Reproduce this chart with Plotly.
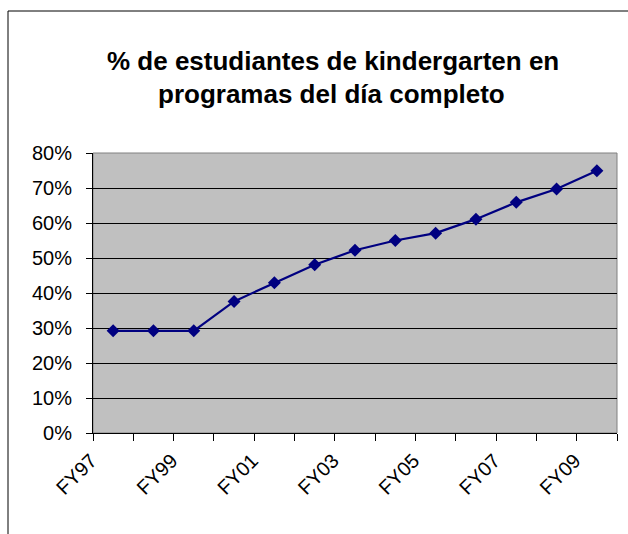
import plotly.graph_objects as go

categories = ["FY97", "FY98", "FY99", "FY00", "FY01", "FY02", "FY03",
              "FY04", "FY05", "FY06", "FY07", "FY08", "FY09"]
values = [29.2, 29.2, 29.2, 37.6, 42.9, 48.1, 52.2, 55.0, 57.1, 61.1, 65.9, 69.7, 74.9]
shown_labels = ["FY97", "FY99", "FY01", "FY03", "FY05", "FY07", "FY09"]
y_ticks = [0, 10, 20, 30, 40, 50, 60, 70, 80]
title_lines = ["% de estudiantes de kindergarten en", "programas del día completo"]

W, H = 628, 534
L, R, T, B = 93, 11, 153, 101
pw, ph = W - L - R, H - T - B

def px_x(v):
    return (v - L) / pw

def px_y(v):
    return (H - B - v) / ph

FONT = "Liberation Sans, Arial, sans-serif"

fig = go.Figure()
fig.add_trace(go.Scatter(
    x=categories, y=values, mode="lines+markers",
    line=dict(color="#000080", width=2.2),
    marker=dict(symbol="diamond", size=10, color="#000080"),
    showlegend=False, hoverinfo="skip",
))

fig.update_layout(
    width=W, height=H,
    margin=dict(l=L, r=R, t=T, b=B, autoexpand=False),
    paper_bgcolor="white", plot_bgcolor="#C0C0C0",
    font=dict(family=FONT, size=20, color="black"),
    xaxis=dict(
        type="category", range=[-0.5, len(categories) - 0.5],
        tickvals=categories,
        ticktext=[c if c in shown_labels else "" for c in categories],
        tickson="boundaries", ticks="outside", ticklen=7, tickcolor="black",
        showline=True, linecolor="black", linewidth=1,
        showgrid=False, tickangle=-45, tickfont=dict(size=20),
        ticklabelshift=-22, ticklabelstandoff=7,
    ),
    yaxis=dict(
        range=[0, 80], tickvals=y_ticks,
        ticktext=[f"{v}%" for v in y_ticks],
        ticks="outside", ticklen=6, tickcolor="black",
        showline=True, linecolor="black", linewidth=1,
        showgrid=True, gridcolor="black", gridwidth=1, zeroline=False,
        tickfont=dict(size=20), ticklabelstandoff=10,
    ),
    shapes=[
        dict(type="rect", xref="paper", yref="paper", x0=0, x1=1, y0=0, y1=1,
             line=dict(color="#808080", width=1), layer="between"),
        dict(type="rect", xref="paper", yref="paper",
             x0=px_x(8), x1=px_x(W + 20), y0=px_y(H + 20), y1=px_y(11),
             line=dict(color="black", width=1), layer="above"),
    ],
    annotations=[
        dict(xref="paper", yref="paper", x=px_x(333), y=px_y(61),
             xanchor="center", yanchor="middle", showarrow=False,
             text=title_lines[0],
             font=dict(family=FONT, size=26, color="black", weight="bold")),
        dict(xref="paper", yref="paper", x=px_x(331), y=px_y(94),
             xanchor="center", yanchor="middle", showarrow=False,
             text=title_lines[1],
             font=dict(family=FONT, size=26, color="black", weight="bold")),
    ],
)

fig.write_html("out.html", post_script="document.body.style.margin='0';",
               config={"displayModeBar": False})
